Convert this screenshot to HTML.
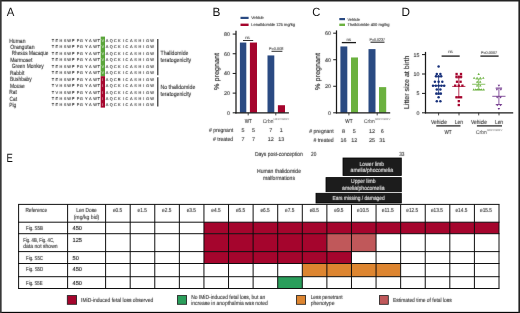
<!DOCTYPE html>
<html lang="en">
<head>
<meta charset="utf-8">
<title>Figure</title>
<style>
html,body{margin:0;padding:0;background:#fff;}
body{width:520px;height:313px;overflow:hidden;font-family:"Liberation Sans", sans-serif;}
#fig{position:absolute;left:0;top:0;width:520px;height:313px;box-sizing:border-box;background:#fff;}
svg{position:absolute;left:0;top:0;display:block;}
svg text{font-family:"Liberation Sans", sans-serif;text-rendering:geometricPrecision;}
</style>
</head>
<body>
<div id="fig">
<svg width="520" height="313" viewBox="0 0 520 313">
<defs><filter id="soft" x="0" y="0" width="520" height="313" filterUnits="userSpaceOnUse" color-interpolation-filters="sRGB"><feConvolveMatrix order="3" kernelMatrix="0.01 0.05 0.01 0.05 0.760 0.05 0.01 0.05 0.01" divisor="1" bias="0" edgeMode="duplicate" preserveAlpha="false"/></filter></defs>
<rect x="0" y="0" width="520" height="313" fill="#ffffff"/>
 <text x="6.7" y="15.9" font-size="11.9" fill="#111" textLength="7.6" lengthAdjust="spacingAndGlyphs">A</text>
 <text x="212.5" y="15.9" font-size="11.9" fill="#111" textLength="7.9" lengthAdjust="spacingAndGlyphs">B</text>
 <text x="312.2" y="15.9" font-size="11.9" fill="#111" textLength="8.1" lengthAdjust="spacingAndGlyphs">C</text>
 <text x="401.5" y="15.9" font-size="11.9" fill="#111" textLength="8.5" lengthAdjust="spacingAndGlyphs">D</text>
 <text x="6.5" y="161.8" font-size="11.9" fill="#111" textLength="6.3" lengthAdjust="spacingAndGlyphs">E</text>
<rect x="100.70" y="36.60" width="4.30" height="39.60" fill="#5aa53a"/>
<rect x="100.70" y="76.20" width="4.30" height="31.40" fill="#a5052d"/>
<line x1="157.80" y1="39.00" x2="157.80" y2="75.20" stroke="#1a1a1a" stroke-width="1.1"/>
<line x1="157.80" y1="77.20" x2="157.80" y2="106.60" stroke="#1a1a1a" stroke-width="1.1"/>
<line x1="232.70" y1="112.80" x2="236.00" y2="112.80" stroke="#1a1a1a" stroke-width="1.0"/>
<line x1="232.70" y1="93.12" x2="236.00" y2="93.12" stroke="#1a1a1a" stroke-width="1.0"/>
<line x1="232.70" y1="73.44" x2="236.00" y2="73.44" stroke="#1a1a1a" stroke-width="1.0"/>
<line x1="232.70" y1="53.76" x2="236.00" y2="53.76" stroke="#1a1a1a" stroke-width="1.0"/>
<line x1="232.70" y1="34.08" x2="236.00" y2="34.08" stroke="#1a1a1a" stroke-width="1.0"/>
<rect x="239.90" y="42.54" width="6.40" height="70.26" fill="#2a4a82"/>
<rect x="249.90" y="42.54" width="7.10" height="70.26" fill="#a5052d"/>
<rect x="267.50" y="55.43" width="6.80" height="57.37" fill="#2a4a82"/>
<rect x="277.90" y="105.22" width="7.10" height="7.58" fill="#a5052d"/>
<line x1="236.00" y1="30.80" x2="236.00" y2="113.40" stroke="#1a1a1a" stroke-width="1.25"/>
<line x1="235.40" y1="112.80" x2="288.90" y2="112.80" stroke="#1a1a1a" stroke-width="1.25"/>
<line x1="248.20" y1="112.80" x2="248.20" y2="115.40" stroke="#1a1a1a" stroke-width="0.8"/>
<line x1="275.80" y1="112.80" x2="275.80" y2="115.40" stroke="#1a1a1a" stroke-width="0.8"/>
<rect x="240.50" y="16.80" width="8.10" height="2.20" fill="#2a4a82"/>
<rect x="240.50" y="23.60" width="8.10" height="2.40" fill="#a5052d"/>
<line x1="243.00" y1="40.50" x2="253.20" y2="40.50" stroke="#1a1a1a" stroke-width="0.9"/>
<line x1="271.50" y1="51.30" x2="282.40" y2="51.30" stroke="#1a1a1a" stroke-width="0.9"/>
<line x1="333.20" y1="112.80" x2="336.50" y2="112.80" stroke="#1a1a1a" stroke-width="1.0"/>
<line x1="333.20" y1="86.26" x2="336.50" y2="86.26" stroke="#1a1a1a" stroke-width="1.0"/>
<line x1="333.20" y1="59.72" x2="336.50" y2="59.72" stroke="#1a1a1a" stroke-width="1.0"/>
<line x1="333.20" y1="33.18" x2="336.50" y2="33.18" stroke="#1a1a1a" stroke-width="1.0"/>
<rect x="340.40" y="46.45" width="6.90" height="66.35" fill="#2a4a82"/>
<rect x="351.00" y="57.46" width="7.00" height="55.34" fill="#6bb13f"/>
<rect x="368.50" y="49.10" width="7.00" height="63.70" fill="#2a4a82"/>
<rect x="379.00" y="87.12" width="7.20" height="25.68" fill="#6bb13f"/>
<line x1="336.50" y1="30.40" x2="336.50" y2="113.40" stroke="#1a1a1a" stroke-width="1.25"/>
<line x1="335.90" y1="112.80" x2="390.20" y2="112.80" stroke="#1a1a1a" stroke-width="1.25"/>
<line x1="348.90" y1="112.80" x2="348.90" y2="115.40" stroke="#1a1a1a" stroke-width="0.8"/>
<line x1="377.20" y1="112.80" x2="377.20" y2="115.40" stroke="#1a1a1a" stroke-width="0.8"/>
<rect x="339.30" y="18.00" width="5.70" height="2.20" fill="#2a4a82"/>
<rect x="339.30" y="23.60" width="5.70" height="2.40" fill="#6bb13f"/>
<line x1="341.80" y1="42.60" x2="356.00" y2="42.60" stroke="#1a1a1a" stroke-width="1.3"/>
<line x1="370.50" y1="42.20" x2="384.50" y2="42.20" stroke="#1a1a1a" stroke-width="1.0"/>
<line x1="422.00" y1="112.80" x2="425.50" y2="112.80" stroke="#1a1a1a" stroke-width="1.0"/>
<line x1="422.00" y1="93.40" x2="425.50" y2="93.40" stroke="#1a1a1a" stroke-width="1.0"/>
<line x1="422.00" y1="74.00" x2="425.50" y2="74.00" stroke="#1a1a1a" stroke-width="1.0"/>
<line x1="422.00" y1="54.60" x2="425.50" y2="54.60" stroke="#1a1a1a" stroke-width="1.0"/>
<line x1="425.50" y1="51.90" x2="425.50" y2="113.40" stroke="#1a1a1a" stroke-width="1.25"/>
<line x1="424.90" y1="112.80" x2="513.20" y2="112.80" stroke="#1a1a1a" stroke-width="1.25"/>
<line x1="438.60" y1="76.72" x2="438.60" y2="94.18" stroke="#17307a" stroke-width="0.8"/>
<line x1="435.40" y1="76.72" x2="441.80" y2="76.72" stroke="#17307a" stroke-width="0.8"/>
<line x1="435.40" y1="94.18" x2="441.80" y2="94.18" stroke="#17307a" stroke-width="0.8"/>
<line x1="432.00" y1="85.64" x2="445.20" y2="85.64" stroke="#17307a" stroke-width="0.8"/>
<circle cx="438.60" cy="66.43" r="1.25" fill="#17307a"/>
<circle cx="436.80" cy="74.00" r="1.25" fill="#17307a"/>
<circle cx="440.40" cy="74.00" r="1.25" fill="#17307a"/>
<circle cx="436.00" cy="76.33" r="1.25" fill="#17307a"/>
<circle cx="438.60" cy="76.33" r="1.25" fill="#17307a"/>
<circle cx="441.20" cy="76.33" r="1.25" fill="#17307a"/>
<circle cx="434.90" cy="81.76" r="1.25" fill="#17307a"/>
<circle cx="438.60" cy="81.76" r="1.25" fill="#17307a"/>
<circle cx="442.30" cy="81.76" r="1.25" fill="#17307a"/>
<circle cx="433.00" cy="85.64" r="1.25" fill="#17307a"/>
<circle cx="435.80" cy="85.64" r="1.25" fill="#17307a"/>
<circle cx="438.60" cy="85.64" r="1.25" fill="#17307a"/>
<circle cx="441.40" cy="85.64" r="1.25" fill="#17307a"/>
<circle cx="444.20" cy="85.64" r="1.25" fill="#17307a"/>
<circle cx="436.80" cy="89.52" r="1.25" fill="#17307a"/>
<circle cx="440.40" cy="89.52" r="1.25" fill="#17307a"/>
<circle cx="436.40" cy="93.40" r="1.25" fill="#17307a"/>
<circle cx="438.60" cy="93.40" r="1.25" fill="#17307a"/>
<circle cx="440.80" cy="93.40" r="1.25" fill="#17307a"/>
<circle cx="438.60" cy="97.28" r="1.25" fill="#17307a"/>
<circle cx="436.80" cy="101.16" r="1.25" fill="#17307a"/>
<circle cx="440.40" cy="101.16" r="1.25" fill="#17307a"/>
<line x1="458.80" y1="77.88" x2="458.80" y2="97.28" stroke="#a5052d" stroke-width="0.8"/>
<line x1="455.60" y1="77.88" x2="462.00" y2="77.88" stroke="#a5052d" stroke-width="0.8"/>
<line x1="455.60" y1="97.28" x2="462.00" y2="97.28" stroke="#a5052d" stroke-width="0.8"/>
<line x1="452.20" y1="86.42" x2="465.40" y2="86.42" stroke="#a5052d" stroke-width="0.8"/>
<rect x="455.45" y="72.85" width="2.3" height="2.3" fill="#a5052d"/>
<rect x="459.85" y="72.85" width="2.3" height="2.3" fill="#a5052d"/>
<rect x="455.35" y="75.57" width="2.3" height="2.3" fill="#a5052d"/>
<rect x="457.65" y="75.57" width="2.3" height="2.3" fill="#a5052d"/>
<rect x="459.95" y="75.57" width="2.3" height="2.3" fill="#a5052d"/>
<rect x="455.85" y="80.61" width="2.3" height="2.3" fill="#a5052d"/>
<rect x="459.45" y="80.61" width="2.3" height="2.3" fill="#a5052d"/>
<rect x="454.05" y="84.49" width="2.3" height="2.3" fill="#a5052d"/>
<rect x="457.65" y="84.49" width="2.3" height="2.3" fill="#a5052d"/>
<rect x="461.25" y="84.49" width="2.3" height="2.3" fill="#a5052d"/>
<rect x="455.35" y="96.13" width="2.3" height="2.3" fill="#a5052d"/>
<rect x="457.65" y="96.13" width="2.3" height="2.3" fill="#a5052d"/>
<rect x="459.95" y="96.13" width="2.3" height="2.3" fill="#a5052d"/>
<rect x="457.65" y="100.01" width="2.3" height="2.3" fill="#a5052d"/>
<rect x="457.65" y="103.89" width="2.3" height="2.3" fill="#a5052d"/>
<line x1="478.70" y1="79.04" x2="478.70" y2="89.52" stroke="#6bb13f" stroke-width="0.8"/>
<line x1="475.50" y1="79.04" x2="481.90" y2="79.04" stroke="#6bb13f" stroke-width="0.8"/>
<line x1="475.50" y1="89.52" x2="481.90" y2="89.52" stroke="#6bb13f" stroke-width="0.8"/>
<line x1="472.10" y1="84.28" x2="485.30" y2="84.28" stroke="#6bb13f" stroke-width="0.8"/>
<path d="M477.45 74.90L479.95 74.90L478.70 72.80Z" fill="#6bb13f"/>
<path d="M472.85 78.78L475.35 78.78L474.10 76.68Z" fill="#6bb13f"/>
<path d="M475.85 78.78L478.35 78.78L477.10 76.68Z" fill="#6bb13f"/>
<path d="M479.05 78.78L481.55 78.78L480.30 76.68Z" fill="#6bb13f"/>
<path d="M482.05 78.78L484.55 78.78L483.30 76.68Z" fill="#6bb13f"/>
<path d="M475.95 82.66L478.45 82.66L477.20 80.56Z" fill="#6bb13f"/>
<path d="M478.95 82.66L481.45 82.66L480.20 80.56Z" fill="#6bb13f"/>
<path d="M475.85 86.54L478.35 86.54L477.10 84.44Z" fill="#6bb13f"/>
<path d="M479.05 86.54L481.55 86.54L480.30 84.44Z" fill="#6bb13f"/>
<path d="M472.45 90.42L474.95 90.42L473.70 88.32Z" fill="#6bb13f"/>
<path d="M474.45 90.42L476.95 90.42L475.70 88.32Z" fill="#6bb13f"/>
<path d="M476.45 90.42L478.95 90.42L477.70 88.32Z" fill="#6bb13f"/>
<path d="M478.45 90.42L480.95 90.42L479.70 88.32Z" fill="#6bb13f"/>
<path d="M480.45 90.42L482.95 90.42L481.70 88.32Z" fill="#6bb13f"/>
<path d="M482.45 90.42L484.95 90.42L483.70 88.32Z" fill="#6bb13f"/>
<line x1="498.90" y1="87.97" x2="498.90" y2="104.65" stroke="#6a2d86" stroke-width="0.8"/>
<line x1="495.70" y1="87.97" x2="502.10" y2="87.97" stroke="#6a2d86" stroke-width="0.8"/>
<line x1="495.70" y1="104.65" x2="502.10" y2="104.65" stroke="#6a2d86" stroke-width="0.8"/>
<line x1="492.30" y1="96.31" x2="505.50" y2="96.31" stroke="#6a2d86" stroke-width="0.8"/>
<path d="M497.65 84.74L500.15 84.74L498.90 86.84Z" fill="#6a2d86"/>
<path d="M495.65 88.62L498.15 88.62L496.90 90.72Z" fill="#6a2d86"/>
<path d="M499.65 88.62L502.15 88.62L500.90 90.72Z" fill="#6a2d86"/>
<path d="M495.95 96.38L498.45 96.38L497.20 98.48Z" fill="#6a2d86"/>
<path d="M499.35 96.38L501.85 96.38L500.60 98.48Z" fill="#6a2d86"/>
<path d="M496.05 104.14L498.55 104.14L497.30 106.24Z" fill="#6a2d86"/>
<path d="M499.25 104.14L501.75 104.14L500.50 106.24Z" fill="#6a2d86"/>
<path d="M497.65 108.02L500.15 108.02L498.90 110.12Z" fill="#6a2d86"/>
<line x1="438.60" y1="112.80" x2="438.60" y2="115.40" stroke="#1a1a1a" stroke-width="0.8"/>
<line x1="459.00" y1="112.80" x2="459.00" y2="115.40" stroke="#1a1a1a" stroke-width="0.8"/>
<line x1="478.70" y1="112.80" x2="478.70" y2="115.40" stroke="#1a1a1a" stroke-width="0.8"/>
<line x1="499.00" y1="112.80" x2="499.00" y2="115.40" stroke="#1a1a1a" stroke-width="0.8"/>
<line x1="441.60" y1="56.10" x2="459.70" y2="56.10" stroke="#1a1a1a" stroke-width="1.3"/>
<line x1="480.40" y1="56.10" x2="498.60" y2="56.10" stroke="#1a1a1a" stroke-width="1.3"/>
<line x1="436.30" y1="125.90" x2="460.50" y2="125.90" stroke="#1a1a1a" stroke-width="1.2"/>
<line x1="476.90" y1="125.90" x2="502.00" y2="125.90" stroke="#1a1a1a" stroke-width="1.2"/>
<rect x="343.00" y="158.00" width="58.30" height="17.50" fill="#1c1c1c" stroke="#000" stroke-width="0.8"/>
<rect x="326.00" y="177.60" width="75.30" height="14.10" fill="#1c1c1c" stroke="#000" stroke-width="0.8"/>
<rect x="316.00" y="193.30" width="85.30" height="9.70" fill="#1c1c1c" stroke="#000" stroke-width="0.8"/>
<rect x="203.95" y="222.20" width="295.05" height="11.50" fill="#a5052d"/>
<rect x="203.95" y="233.70" width="122.94" height="17.90" fill="#a5052d"/>
<rect x="326.89" y="233.70" width="49.18" height="17.90" fill="#c0585a"/>
<rect x="203.95" y="251.60" width="147.53" height="11.90" fill="#a5052d"/>
<rect x="302.30" y="263.50" width="98.35" height="13.20" fill="#dd8530"/>
<rect x="277.71" y="276.70" width="24.59" height="11.80" fill="#2a9e5b"/>
<line x1="18.10" y1="204.40" x2="499.50" y2="204.40" stroke="#0a0a0a" stroke-width="0.98"/>
<line x1="18.10" y1="222.20" x2="499.50" y2="222.20" stroke="#0a0a0a" stroke-width="0.98"/>
<line x1="18.10" y1="233.70" x2="499.50" y2="233.70" stroke="#0a0a0a" stroke-width="0.98"/>
<line x1="18.10" y1="251.60" x2="499.50" y2="251.60" stroke="#0a0a0a" stroke-width="0.98"/>
<line x1="18.10" y1="263.50" x2="499.50" y2="263.50" stroke="#0a0a0a" stroke-width="0.98"/>
<line x1="18.10" y1="276.70" x2="499.50" y2="276.70" stroke="#0a0a0a" stroke-width="0.98"/>
<line x1="18.10" y1="288.50" x2="499.50" y2="288.50" stroke="#0a0a0a" stroke-width="0.98"/>
<line x1="18.60" y1="204.40" x2="18.60" y2="288.50" stroke="#0a0a0a" stroke-width="0.98"/>
<line x1="67.60" y1="204.40" x2="67.60" y2="288.50" stroke="#0a0a0a" stroke-width="0.98"/>
<line x1="105.60" y1="204.40" x2="105.60" y2="288.50" stroke="#0a0a0a" stroke-width="0.98"/>
<line x1="130.19" y1="204.40" x2="130.19" y2="288.50" stroke="#0a0a0a" stroke-width="0.98"/>
<line x1="154.77" y1="204.40" x2="154.77" y2="288.50" stroke="#0a0a0a" stroke-width="0.98"/>
<line x1="179.36" y1="204.40" x2="179.36" y2="288.50" stroke="#0a0a0a" stroke-width="0.98"/>
<line x1="203.95" y1="204.40" x2="203.95" y2="288.50" stroke="#0a0a0a" stroke-width="0.98"/>
<line x1="228.54" y1="204.40" x2="228.54" y2="288.50" stroke="#0a0a0a" stroke-width="0.98"/>
<line x1="253.12" y1="204.40" x2="253.12" y2="288.50" stroke="#0a0a0a" stroke-width="0.98"/>
<line x1="277.71" y1="204.40" x2="277.71" y2="288.50" stroke="#0a0a0a" stroke-width="0.98"/>
<line x1="302.30" y1="204.40" x2="302.30" y2="288.50" stroke="#0a0a0a" stroke-width="0.98"/>
<line x1="326.89" y1="204.40" x2="326.89" y2="288.50" stroke="#0a0a0a" stroke-width="0.98"/>
<line x1="351.48" y1="204.40" x2="351.48" y2="288.50" stroke="#0a0a0a" stroke-width="0.98"/>
<line x1="376.06" y1="204.40" x2="376.06" y2="288.50" stroke="#0a0a0a" stroke-width="0.98"/>
<line x1="400.65" y1="204.40" x2="400.65" y2="288.50" stroke="#0a0a0a" stroke-width="0.98"/>
<line x1="425.24" y1="204.40" x2="425.24" y2="288.50" stroke="#0a0a0a" stroke-width="0.98"/>
<line x1="449.82" y1="204.40" x2="449.82" y2="288.50" stroke="#0a0a0a" stroke-width="0.98"/>
<line x1="474.41" y1="204.40" x2="474.41" y2="288.50" stroke="#0a0a0a" stroke-width="0.98"/>
<line x1="499.00" y1="204.40" x2="499.00" y2="288.50" stroke="#0a0a0a" stroke-width="0.98"/>
<rect x="67.30" y="295.60" width="9.30" height="8.70" fill="#a5052d" stroke="#1a1a1a" stroke-width="0.8"/>
<rect x="177.50" y="295.60" width="9.10" height="8.70" fill="#2a9e5b" stroke="#1a1a1a" stroke-width="0.8"/>
<rect x="296.50" y="295.60" width="9.10" height="8.70" fill="#dd8530" stroke="#1a1a1a" stroke-width="0.8"/>
<rect x="379.50" y="295.60" width="8.80" height="8.70" fill="#c0585a" stroke="#1a1a1a" stroke-width="0.8"/>
<rect x="0.00" y="0.00" width="520.00" height="1.50" fill="#222"/>
<rect x="0.00" y="311.85" width="520.00" height="1.15" fill="#050505"/>
<rect x="0.00" y="0.00" width="1.65" height="313.00" fill="#383838"/>
<rect x="518.40" y="0.00" width="1.60" height="313.00" fill="#222"/>
<g filter="url(#soft)">
<text x="9.2" y="42.55" font-size="5.99" fill="#2a2a2a" stroke="#2a2a2a" stroke-width="0.1" textLength="16.3" lengthAdjust="spacingAndGlyphs">Human</text>
<text x="53 56.8 61 65 69.2 73.2 78.1 81.6 86.2 90.3 95 98.7 102.8 107 111.2 115.5 119.2 123.2 126.8 131.3 135.5 139.9 143.9 147.8 152.2" y="41.95" font-size="3.9" fill="#242424" stroke="#242424" stroke-width="0.1" text-anchor="middle">TEHSWFPGYAWT<tspan fill="#fff" stroke="none">V</tspan>AQCKICASHIGW</text>
<text x="10.2" y="49.0" font-size="5.99" fill="#2a2a2a" stroke="#2a2a2a" stroke-width="0.1" textLength="24.3" lengthAdjust="spacingAndGlyphs">Orangutan</text>
<text x="53 56.8 61 65 69.2 73.2 78.1 81.6 86.2 90.3 95 98.7 102.8 107 111.2 115.5 119.2 123.2 126.8 131.3 135.5 139.9 143.9 147.8 152.2" y="48.4" font-size="3.9" fill="#242424" stroke="#242424" stroke-width="0.1" text-anchor="middle">TEHSWFPGYAWT<tspan fill="#fff" stroke="none">V</tspan>AQCKICASHIGW</text>
<text x="11.7" y="55.45" font-size="5.99" fill="#2a2a2a" stroke="#2a2a2a" stroke-width="0.1" textLength="36.8" lengthAdjust="spacingAndGlyphs">Rhesus Macaque</text>
<text x="53 56.8 61 65 69.2 73.2 78.1 81.6 86.2 90.3 95 98.7 102.8 107 111.2 115.5 119.2 123.2 126.8 131.3 135.5 139.9 143.9 147.8 152.2" y="54.85" font-size="3.9" fill="#242424" stroke="#242424" stroke-width="0.1" text-anchor="middle">TEHSWFPGYAWT<tspan fill="#fff" stroke="none">V</tspan>AQCKICASHIGW</text>
<text x="10.2" y="61.9" font-size="5.99" fill="#2a2a2a" stroke="#2a2a2a" stroke-width="0.1" textLength="22.3" lengthAdjust="spacingAndGlyphs">Marmoset</text>
<text x="53 56.8 61 65 69.2 73.2 78.1 81.6 86.2 90.3 95 98.7 102.8 107 111.2 115.5 119.2 123.2 126.8 131.3 135.5 139.9 143.9 147.8 152.2" y="61.3" font-size="3.9" fill="#242424" stroke="#242424" stroke-width="0.1" text-anchor="middle">TEHSWFPGYAWT<tspan fill="#fff" stroke="none">V</tspan>AQCKICASHIGW</text>
<text x="11.7" y="68.35" font-size="5.99" fill="#2a2a2a" stroke="#2a2a2a" stroke-width="0.1" textLength="32.1" lengthAdjust="spacingAndGlyphs">Green Monkey</text>
<text x="53 56.8 61 65 69.2 73.2 78.1 81.6 86.2 90.3 95 98.7 102.8 107 111.2 115.5 119.2 123.2 126.8 131.3 135.5 139.9 143.9 147.8 152.2" y="67.75" font-size="3.9" fill="#242424" stroke="#242424" stroke-width="0.1" text-anchor="middle">TEHSWFPGYAWT<tspan fill="#fff" stroke="none">V</tspan>AQCKICASHIGW</text>
<text x="10" y="74.8" font-size="5.99" fill="#2a2a2a" stroke="#2a2a2a" stroke-width="0.1" textLength="14.3" lengthAdjust="spacingAndGlyphs">Rabbit</text>
<text x="53 56.8 61 65 69.2 73.2 78.1 81.6 86.2 90.3 95 98.7 102.8 107 111.2 115.5 119.2 123.2 126.8 131.3 135.5 139.9 143.9 147.8 152.2" y="74.2" font-size="3.9" fill="#242424" stroke="#242424" stroke-width="0.1" text-anchor="middle">TEHSWFPGYAWT<tspan fill="#fff" stroke="none">V</tspan>AQCKICASHIGW</text>
<text x="10" y="81.25" font-size="5.99" fill="#2a2a2a" stroke="#2a2a2a" stroke-width="0.1" textLength="21.8" lengthAdjust="spacingAndGlyphs">Bushbaby</text>
<text x="53 56.8 61 65 69.2 73.2 78.1 81.6 86.2 90.3 95 98.7 102.8 107 111.2 115.5 119.2 123.2 126.8 131.3 135.5 139.9 143.9 147.8 152.2" y="80.65" font-size="3.9" fill="#242424" stroke="#242424" stroke-width="0.1" text-anchor="middle">TEHSWFPGYAWT<tspan fill="#fff" stroke="none">I</tspan>AQCRICASHIGW</text>
<text x="10" y="87.7" font-size="5.99" fill="#2a2a2a" stroke="#2a2a2a" stroke-width="0.1" textLength="14.8" lengthAdjust="spacingAndGlyphs">Mouse</text>
<text x="53 56.8 61 65 69.2 73.2 78.1 81.6 86.2 90.3 95 98.7 102.8 107 111.2 115.5 119.2 123.2 126.8 131.3 135.5 139.9 143.9 147.8 152.2" y="87.1" font-size="3.9" fill="#242424" stroke="#242424" stroke-width="0.1" text-anchor="middle">TVHSWFPGYAWT<tspan fill="#fff" stroke="none">I</tspan>AQCKICASHIGW</text>
<text x="9.2" y="94.15" font-size="5.99" fill="#2a2a2a" stroke="#2a2a2a" stroke-width="0.1" textLength="7.6" lengthAdjust="spacingAndGlyphs">Rat</text>
<text x="53 56.8 61 65 69.2 73.2 78.1 81.6 86.2 90.3 95 98.7 102.8 107 111.2 115.5 119.2 123.2 126.8 131.3 135.5 139.9 143.9 147.8 152.2" y="93.55" font-size="3.9" fill="#242424" stroke="#242424" stroke-width="0.1" text-anchor="middle">TVHSWFPGYAWT<tspan fill="#fff" stroke="none">I</tspan>AQCKICASHIGW</text>
<text x="9.5" y="100.6" font-size="5.99" fill="#2a2a2a" stroke="#2a2a2a" stroke-width="0.1" textLength="7.5" lengthAdjust="spacingAndGlyphs">Cat</text>
<text x="53 56.8 61 65 69.2 73.2 78.1 81.6 86.2 90.3 95 98.7 102.8 107 111.2 115.5 119.2 123.2 126.8 131.3 135.5 139.9 143.9 147.8 152.2" y="100.0" font-size="3.9" fill="#242424" stroke="#242424" stroke-width="0.1" text-anchor="middle">TEHSWFPGYAWT<tspan fill="#fff" stroke="none">I</tspan>AQCKICASHIGW</text>
<text x="9.2" y="107.05" font-size="5.99" fill="#2a2a2a" stroke="#2a2a2a" stroke-width="0.1" textLength="7.1" lengthAdjust="spacingAndGlyphs">Pig</text>
<text x="53 56.8 61 65 69.2 73.2 78.1 81.6 86.2 90.3 95 98.7 102.8 107 111.2 115.5 119.2 123.2 126.8 131.3 135.5 139.9 143.9 147.8 152.2" y="106.45" font-size="3.9" fill="#242424" stroke="#242424" stroke-width="0.1" text-anchor="middle">TEHSWFPGYAWT<tspan fill="#fff" stroke="none">I</tspan>AQCKICASHIGW</text>
<text x="160.5" y="54.95" font-size="5.99" fill="#2a2a2a" stroke="#2a2a2a" stroke-width="0.1" textLength="27.9" lengthAdjust="spacingAndGlyphs">Thalidomide</text>
<text x="160.5" y="61.75" font-size="5.99" fill="#2a2a2a" stroke="#2a2a2a" stroke-width="0.1" textLength="30.7" lengthAdjust="spacingAndGlyphs">teratogenicity</text>
<text x="160.5" y="89.05" font-size="5.99" fill="#2a2a2a" stroke="#2a2a2a" stroke-width="0.1" textLength="34.8" lengthAdjust="spacingAndGlyphs">No thalidomide</text>
<text x="160.5" y="95.85" font-size="5.99" fill="#2a2a2a" stroke="#2a2a2a" stroke-width="0.1" textLength="30.7" lengthAdjust="spacingAndGlyphs">teratogenicity</text>
<text transform="translate(219.3,71.5) rotate(-90)" text-anchor="middle" font-size="7.2" fill="#1c1c1c" stroke="#1c1c1c" stroke-width="0.13">% pregnant</text>
<text x="229.9" y="114.7" font-size="5.3" fill="#2a2a2a" stroke="#2a2a2a" stroke-width="0.1" text-anchor="end">0</text>
<text x="229.9" y="95.02" font-size="5.3" fill="#2a2a2a" stroke="#2a2a2a" stroke-width="0.1" text-anchor="end">20</text>
<text x="229.9" y="75.34" font-size="5.3" fill="#2a2a2a" stroke="#2a2a2a" stroke-width="0.1" text-anchor="end">40</text>
<text x="229.9" y="55.66" font-size="5.3" fill="#2a2a2a" stroke="#2a2a2a" stroke-width="0.1" text-anchor="end">60</text>
<text x="229.9" y="35.98" font-size="5.3" fill="#2a2a2a" stroke="#2a2a2a" stroke-width="0.1" text-anchor="end">80</text>
<text x="251.2" y="19.3" font-size="4.1" fill="#2a2a2a" stroke="#2a2a2a" stroke-width="0.1" textLength="12.6" lengthAdjust="spacingAndGlyphs">Vehicle</text>
<text x="251.2" y="26.3" font-size="4.1" fill="#2a2a2a" stroke="#2a2a2a" stroke-width="0.1" textLength="43.8" lengthAdjust="spacingAndGlyphs">Lenalidomide 125 mg/kg</text>
<text x="248.3" y="123.45" font-size="5.89" fill="#2a2a2a" stroke="#2a2a2a" stroke-width="0.1" text-anchor="middle" textLength="7.2" lengthAdjust="spacingAndGlyphs">WT</text>
<text x="262.8" y="123.3" font-size="5.5" fill="#2a2a2a" textLength="10.6" lengthAdjust="spacingAndGlyphs">Crbn</text>
<text x="273.5" y="120.2" font-size="2.8" fill="#666" textLength="15.6" lengthAdjust="spacingAndGlyphs">I391V/I391V</text>
<text x="233.2" y="132.25" font-size="5.78" fill="#2a2a2a" stroke="#2a2a2a" stroke-width="0.1" text-anchor="end" textLength="24.3" lengthAdjust="spacingAndGlyphs"># pregnant</text>
<text x="233.2" y="141.35" font-size="5.78" fill="#2a2a2a" stroke="#2a2a2a" stroke-width="0.1" text-anchor="end" textLength="20.2" lengthAdjust="spacingAndGlyphs"># treated</text>
<text x="242.9" y="132.1" font-size="5.4" fill="#2a2a2a" stroke="#2a2a2a" stroke-width="0.1" text-anchor="middle">5</text>
<text x="242.9" y="141.2" font-size="5.4" fill="#2a2a2a" stroke="#2a2a2a" stroke-width="0.1" text-anchor="middle">7</text>
<text x="253.5" y="132.1" font-size="5.4" fill="#2a2a2a" stroke="#2a2a2a" stroke-width="0.1" text-anchor="middle">5</text>
<text x="253.5" y="141.2" font-size="5.4" fill="#2a2a2a" stroke="#2a2a2a" stroke-width="0.1" text-anchor="middle">7</text>
<text x="270.8" y="132.1" font-size="5.4" fill="#2a2a2a" stroke="#2a2a2a" stroke-width="0.1" text-anchor="middle">7</text>
<text x="270.8" y="141.2" font-size="5.4" fill="#2a2a2a" stroke="#2a2a2a" stroke-width="0.1" text-anchor="middle">12</text>
<text x="281.2" y="132.1" font-size="5.4" fill="#2a2a2a" stroke="#2a2a2a" stroke-width="0.1" text-anchor="middle">1</text>
<text x="281.2" y="141.2" font-size="5.4" fill="#2a2a2a" stroke="#2a2a2a" stroke-width="0.1" text-anchor="middle">13</text>
<text x="247.5" y="39.2" font-size="4.3" fill="#3a3a3a" stroke="#3a3a3a" stroke-width="0.1" text-anchor="middle">ns</text>
<text x="276.2" y="50" font-size="4.0" fill="#3a3a3a" stroke="#3a3a3a" stroke-width="0.1" text-anchor="middle" textLength="14.4" lengthAdjust="spacingAndGlyphs">P=0.008</text>
<text transform="translate(320.3,71.5) rotate(-90)" text-anchor="middle" font-size="7.2" fill="#1c1c1c" stroke="#1c1c1c" stroke-width="0.13">% pregnant</text>
<text x="330.9" y="114.7" font-size="5.3" fill="#2a2a2a" stroke="#2a2a2a" stroke-width="0.1" text-anchor="end">0</text>
<text x="330.9" y="88.16" font-size="5.3" fill="#2a2a2a" stroke="#2a2a2a" stroke-width="0.1" text-anchor="end">20</text>
<text x="330.9" y="61.62" font-size="5.3" fill="#2a2a2a" stroke="#2a2a2a" stroke-width="0.1" text-anchor="end">40</text>
<text x="330.9" y="35.08" font-size="5.3" fill="#2a2a2a" stroke="#2a2a2a" stroke-width="0.1" text-anchor="end">60</text>
<text x="347.5" y="20.5" font-size="4.1" fill="#2a2a2a" stroke="#2a2a2a" stroke-width="0.1" textLength="12.4" lengthAdjust="spacingAndGlyphs">Vehicle</text>
<text x="347.5" y="26.3" font-size="4.1" fill="#2a2a2a" stroke="#2a2a2a" stroke-width="0.1" textLength="42" lengthAdjust="spacingAndGlyphs">Thalidomide 400 mg/kg</text>
<text x="348.9" y="123.45" font-size="5.89" fill="#2a2a2a" stroke="#2a2a2a" stroke-width="0.1" text-anchor="middle" textLength="7.2" lengthAdjust="spacingAndGlyphs">WT</text>
<text x="364.0" y="123.3" font-size="5.5" fill="#2a2a2a" textLength="10.6" lengthAdjust="spacingAndGlyphs">Crbn</text>
<text x="374.7" y="120.2" font-size="2.8" fill="#666" textLength="15.6" lengthAdjust="spacingAndGlyphs">I391V/I391V</text>
<text x="333.6" y="132.75" font-size="5.78" fill="#2a2a2a" stroke="#2a2a2a" stroke-width="0.1" text-anchor="end" textLength="24.3" lengthAdjust="spacingAndGlyphs"># pregnant</text>
<text x="333.6" y="141.85" font-size="5.78" fill="#2a2a2a" stroke="#2a2a2a" stroke-width="0.1" text-anchor="end" textLength="20.2" lengthAdjust="spacingAndGlyphs"># treated</text>
<text x="343.5" y="132.6" font-size="5.4" fill="#2a2a2a" stroke="#2a2a2a" stroke-width="0.1" text-anchor="middle">8</text>
<text x="343.5" y="141.7" font-size="5.4" fill="#2a2a2a" stroke="#2a2a2a" stroke-width="0.1" text-anchor="middle">16</text>
<text x="354.2" y="132.6" font-size="5.4" fill="#2a2a2a" stroke="#2a2a2a" stroke-width="0.1" text-anchor="middle">5</text>
<text x="354.2" y="141.7" font-size="5.4" fill="#2a2a2a" stroke="#2a2a2a" stroke-width="0.1" text-anchor="middle">12</text>
<text x="372" y="132.6" font-size="5.4" fill="#2a2a2a" stroke="#2a2a2a" stroke-width="0.1" text-anchor="middle">12</text>
<text x="372" y="141.7" font-size="5.4" fill="#2a2a2a" stroke="#2a2a2a" stroke-width="0.1" text-anchor="middle">25</text>
<text x="382.3" y="132.6" font-size="5.4" fill="#2a2a2a" stroke="#2a2a2a" stroke-width="0.1" text-anchor="middle">6</text>
<text x="382.3" y="141.7" font-size="5.4" fill="#2a2a2a" stroke="#2a2a2a" stroke-width="0.1" text-anchor="middle">31</text>
<text x="348.8" y="40.8" font-size="4.3" fill="#3a3a3a" stroke="#3a3a3a" stroke-width="0.1" text-anchor="middle">ns</text>
<text x="377.3" y="40.6" font-size="4.0" fill="#3a3a3a" stroke="#3a3a3a" stroke-width="0.1" text-anchor="middle" textLength="15.6" lengthAdjust="spacingAndGlyphs">P=0.0237</text>
<text transform="translate(409.3,82.3) rotate(-90)" text-anchor="middle" font-size="7.2" fill="#1c1c1c" stroke="#1c1c1c" stroke-width="0.13" textLength="53.5" lengthAdjust="spacingAndGlyphs">Litter size at birth</text>
<text x="419.4" y="114.7" font-size="5.3" fill="#2a2a2a" stroke="#2a2a2a" stroke-width="0.1" text-anchor="end">0</text>
<text x="419.4" y="95.3" font-size="5.3" fill="#2a2a2a" stroke="#2a2a2a" stroke-width="0.1" text-anchor="end">5</text>
<text x="419.4" y="75.9" font-size="5.3" fill="#2a2a2a" stroke="#2a2a2a" stroke-width="0.1" text-anchor="end">10</text>
<text x="419.4" y="56.5" font-size="5.3" fill="#2a2a2a" stroke="#2a2a2a" stroke-width="0.1" text-anchor="end">15</text>
<text x="450.5" y="53.3" font-size="4.3" fill="#3a3a3a" stroke="#3a3a3a" stroke-width="0.1" text-anchor="middle">ns</text>
<text x="489" y="54.3" font-size="4.0" fill="#3a3a3a" stroke="#3a3a3a" stroke-width="0.1" text-anchor="middle" textLength="16.2" lengthAdjust="spacingAndGlyphs">P=0.0007</text>
<text x="439.0" y="123.85" font-size="5.89" fill="#2a2a2a" stroke="#2a2a2a" stroke-width="0.1" text-anchor="middle" textLength="15.8" lengthAdjust="spacingAndGlyphs">Vehicle</text>
<text x="458.8" y="123.85" font-size="5.89" fill="#2a2a2a" stroke="#2a2a2a" stroke-width="0.1" text-anchor="middle" textLength="8.1" lengthAdjust="spacingAndGlyphs">Len</text>
<text x="479.0" y="123.85" font-size="5.89" fill="#2a2a2a" stroke="#2a2a2a" stroke-width="0.1" text-anchor="middle" textLength="15.8" lengthAdjust="spacingAndGlyphs">Vehicle</text>
<text x="499.0" y="123.85" font-size="5.89" fill="#2a2a2a" stroke="#2a2a2a" stroke-width="0.1" text-anchor="middle" textLength="8.1" lengthAdjust="spacingAndGlyphs">Len</text>
<text x="448" y="134.05" font-size="5.89" fill="#2a2a2a" stroke="#2a2a2a" stroke-width="0.1" text-anchor="middle" textLength="7.2" lengthAdjust="spacingAndGlyphs">WT</text>
<text x="476.0" y="133.9" font-size="5.5" fill="#2a2a2a" textLength="10.6" lengthAdjust="spacingAndGlyphs">Crbn</text>
<text x="486.7" y="130.8" font-size="2.8" fill="#666" textLength="15.6" lengthAdjust="spacingAndGlyphs">I391V/I391V</text>
<text x="254.9" y="156.05" font-size="5.89" fill="#2a2a2a" stroke="#2a2a2a" stroke-width="0.1" textLength="48" lengthAdjust="spacingAndGlyphs">Days post-conception</text>
<text x="311" y="156.05" font-size="5.89" fill="#2a2a2a" stroke="#2a2a2a" stroke-width="0.1" textLength="5.3" lengthAdjust="spacingAndGlyphs">20</text>
<text x="399.2" y="156.05" font-size="5.89" fill="#2a2a2a" stroke="#2a2a2a" stroke-width="0.1" textLength="5.3" lengthAdjust="spacingAndGlyphs">33</text>
<text x="279" y="173.25" font-size="5.89" fill="#2a2a2a" stroke="#2a2a2a" stroke-width="0.1" text-anchor="middle" textLength="44" lengthAdjust="spacingAndGlyphs">Human thalidomide</text>
<text x="279" y="179.55" font-size="5.89" fill="#2a2a2a" stroke="#2a2a2a" stroke-width="0.1" text-anchor="middle" textLength="32" lengthAdjust="spacingAndGlyphs">malformations</text>
<text x="371.8" y="165.75" font-size="5.89" fill="#f0f0f0" stroke="#f0f0f0" stroke-width="0.1" text-anchor="middle" textLength="24.5" lengthAdjust="spacingAndGlyphs">Lower limb</text>
<text x="371.8" y="172.25" font-size="5.89" fill="#f0f0f0" stroke="#f0f0f0" stroke-width="0.1" text-anchor="middle" textLength="42.5" lengthAdjust="spacingAndGlyphs">amelia/phocomelia</text>
<text x="363.3" y="183.45" font-size="5.89" fill="#f0f0f0" stroke="#f0f0f0" stroke-width="0.1" text-anchor="middle" textLength="24.5" lengthAdjust="spacingAndGlyphs">Upper limb</text>
<text x="363.3" y="189.95" font-size="5.89" fill="#f0f0f0" stroke="#f0f0f0" stroke-width="0.1" text-anchor="middle" textLength="42.5" lengthAdjust="spacingAndGlyphs">amelia/phocomelia</text>
<text x="358.6" y="200.25" font-size="5.89" fill="#f0f0f0" stroke="#f0f0f0" stroke-width="0.1" text-anchor="middle" textLength="52.3" lengthAdjust="spacingAndGlyphs">Ears missing / damaged</text>
<text x="25.5" y="212.35" font-size="5.78" fill="#2a2a2a" stroke="#2a2a2a" stroke-width="0.1" textLength="21.5" lengthAdjust="spacingAndGlyphs">Reference</text>
<text x="86.5" y="212.25" font-size="5.78" fill="#2a2a2a" stroke="#2a2a2a" stroke-width="0.1" text-anchor="middle" textLength="20.5" lengthAdjust="spacingAndGlyphs">Len Dose</text>
<text x="86.5" y="218.55" font-size="5.78" fill="#2a2a2a" stroke="#2a2a2a" stroke-width="0.1" text-anchor="middle" textLength="25.7" lengthAdjust="spacingAndGlyphs">(mg/kg bid)</text>
<text x="117.59" y="212.45" font-size="5.78" fill="#2a2a2a" stroke="#2a2a2a" stroke-width="0.1" text-anchor="middle" textLength="9.3" lengthAdjust="spacingAndGlyphs">e0.5</text>
<text x="142.18" y="212.45" font-size="5.78" fill="#2a2a2a" stroke="#2a2a2a" stroke-width="0.1" text-anchor="middle" textLength="9.3" lengthAdjust="spacingAndGlyphs">e1.5</text>
<text x="166.77" y="212.45" font-size="5.78" fill="#2a2a2a" stroke="#2a2a2a" stroke-width="0.1" text-anchor="middle" textLength="9.3" lengthAdjust="spacingAndGlyphs">e2.5</text>
<text x="191.36" y="212.45" font-size="5.78" fill="#2a2a2a" stroke="#2a2a2a" stroke-width="0.1" text-anchor="middle" textLength="9.3" lengthAdjust="spacingAndGlyphs">e3.5</text>
<text x="215.94" y="212.45" font-size="5.78" fill="#2a2a2a" stroke="#2a2a2a" stroke-width="0.1" text-anchor="middle" textLength="9.3" lengthAdjust="spacingAndGlyphs">e4.5</text>
<text x="240.53" y="212.45" font-size="5.78" fill="#2a2a2a" stroke="#2a2a2a" stroke-width="0.1" text-anchor="middle" textLength="9.3" lengthAdjust="spacingAndGlyphs">e5.5</text>
<text x="265.12" y="212.45" font-size="5.78" fill="#2a2a2a" stroke="#2a2a2a" stroke-width="0.1" text-anchor="middle" textLength="9.3" lengthAdjust="spacingAndGlyphs">e6.5</text>
<text x="289.71" y="212.45" font-size="5.78" fill="#2a2a2a" stroke="#2a2a2a" stroke-width="0.1" text-anchor="middle" textLength="9.3" lengthAdjust="spacingAndGlyphs">e7.5</text>
<text x="314.29" y="212.45" font-size="5.78" fill="#2a2a2a" stroke="#2a2a2a" stroke-width="0.1" text-anchor="middle" textLength="9.3" lengthAdjust="spacingAndGlyphs">e8.5</text>
<text x="338.88" y="212.45" font-size="5.78" fill="#2a2a2a" stroke="#2a2a2a" stroke-width="0.1" text-anchor="middle" textLength="9.3" lengthAdjust="spacingAndGlyphs">e9.5</text>
<text x="363.07" y="212.45" font-size="5.78" fill="#2a2a2a" stroke="#2a2a2a" stroke-width="0.1" text-anchor="middle" textLength="11.9" lengthAdjust="spacingAndGlyphs">e10.5</text>
<text x="387.66" y="212.45" font-size="5.78" fill="#2a2a2a" stroke="#2a2a2a" stroke-width="0.1" text-anchor="middle" textLength="11.9" lengthAdjust="spacingAndGlyphs">e11.5</text>
<text x="412.24" y="212.45" font-size="5.78" fill="#2a2a2a" stroke="#2a2a2a" stroke-width="0.1" text-anchor="middle" textLength="11.9" lengthAdjust="spacingAndGlyphs">e12.5</text>
<text x="436.83" y="212.45" font-size="5.78" fill="#2a2a2a" stroke="#2a2a2a" stroke-width="0.1" text-anchor="middle" textLength="11.9" lengthAdjust="spacingAndGlyphs">e13.5</text>
<text x="461.42" y="212.45" font-size="5.78" fill="#2a2a2a" stroke="#2a2a2a" stroke-width="0.1" text-anchor="middle" textLength="11.9" lengthAdjust="spacingAndGlyphs">e14.5</text>
<text x="486.01" y="212.45" font-size="5.78" fill="#2a2a2a" stroke="#2a2a2a" stroke-width="0.1" text-anchor="middle" textLength="11.9" lengthAdjust="spacingAndGlyphs">e15.5</text>
<text x="26" y="230.35" font-size="5.78" fill="#2a2a2a" stroke="#2a2a2a" stroke-width="0.1" textLength="17" lengthAdjust="spacingAndGlyphs">Fig. S5B</text>
<text x="23.2" y="241.85" font-size="5.78" fill="#2a2a2a" stroke="#2a2a2a" stroke-width="0.1" textLength="31" lengthAdjust="spacingAndGlyphs">Fig. 4B, Fig. 4C,</text>
<text x="23.2" y="248.15" font-size="5.78" fill="#2a2a2a" stroke="#2a2a2a" stroke-width="0.1" textLength="34.5" lengthAdjust="spacingAndGlyphs">data not shown</text>
<text x="26" y="260.35" font-size="5.78" fill="#2a2a2a" stroke="#2a2a2a" stroke-width="0.1" textLength="17" lengthAdjust="spacingAndGlyphs">Fig. S5C</text>
<text x="26" y="271.35" font-size="5.78" fill="#2a2a2a" stroke="#2a2a2a" stroke-width="0.1" textLength="17.3" lengthAdjust="spacingAndGlyphs">Fig. S5D</text>
<text x="26" y="284.65" font-size="5.78" fill="#2a2a2a" stroke="#2a2a2a" stroke-width="0.1" textLength="16.7" lengthAdjust="spacingAndGlyphs">Fig. S5E</text>
<text x="72.5" y="230.3" font-size="5.7" fill="#111" stroke="#111" stroke-width="0.1">450</text>
<text x="72.5" y="242.1" font-size="5.7" fill="#111" stroke="#111" stroke-width="0.1">125</text>
<text x="72.5" y="260.3" font-size="5.7" fill="#111" stroke="#111" stroke-width="0.1">50</text>
<text x="72.5" y="271.3" font-size="5.7" fill="#111" stroke="#111" stroke-width="0.1">450</text>
<text x="72.5" y="284.6" font-size="5.7" fill="#111" stroke="#111" stroke-width="0.1">450</text>
<text x="81" y="302.15" font-size="5.78" fill="#2a2a2a" stroke="#2a2a2a" stroke-width="0.1" textLength="72.3" lengthAdjust="spacingAndGlyphs">IMiD-induced fetal loss observed</text>
<text x="191.2" y="298.65" font-size="5.78" fill="#2a2a2a" stroke="#2a2a2a" stroke-width="0.1" textLength="74" lengthAdjust="spacingAndGlyphs">No IMiD-induced fetal loss, but an</text>
<text x="191.2" y="304.95" font-size="5.78" fill="#2a2a2a" stroke="#2a2a2a" stroke-width="0.1" textLength="76.5" lengthAdjust="spacingAndGlyphs">increase in anopthalmia was noted</text>
<text x="310.7" y="298.65" font-size="5.78" fill="#2a2a2a" stroke="#2a2a2a" stroke-width="0.1" textLength="31.8" lengthAdjust="spacingAndGlyphs">Less penetrant</text>
<text x="310.7" y="304.95" font-size="5.78" fill="#2a2a2a" stroke="#2a2a2a" stroke-width="0.1" textLength="23.8" lengthAdjust="spacingAndGlyphs">phenotype</text>
<text x="393" y="302.15" font-size="5.78" fill="#2a2a2a" stroke="#2a2a2a" stroke-width="0.1" textLength="58.7" lengthAdjust="spacingAndGlyphs">Estimated time of fetal loss</text>
</g>
</svg>
</div>
</body>
</html>
